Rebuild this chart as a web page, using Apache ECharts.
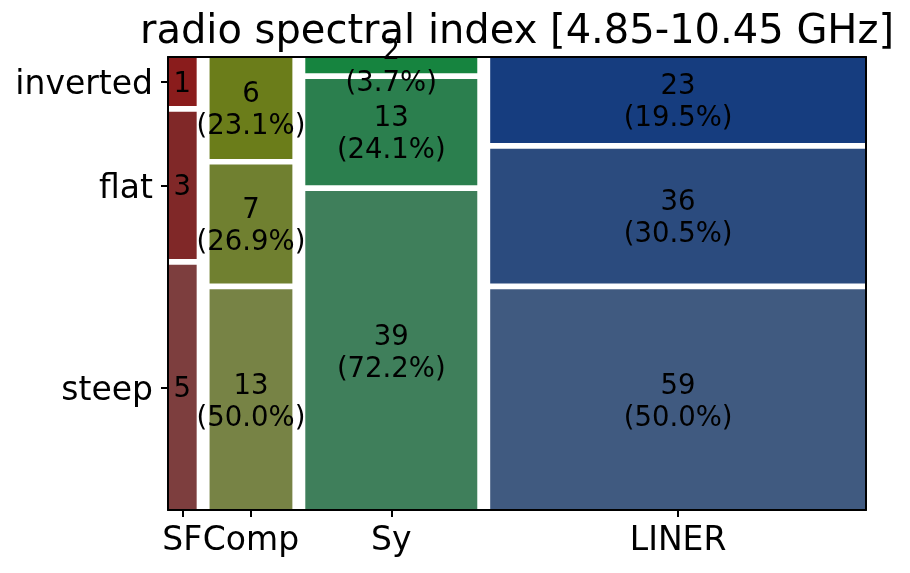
<!DOCTYPE html>
<html>
<head>
<meta charset="utf-8">
<script src="https://cdn.jsdelivr.net/npm/echarts@6/dist/echarts.min.js"></script>
<style>
  html, body { margin: 0; padding: 0; background: #fff; }
  #chart { width: 910px; height: 573px; }
</style>
</head>
<body>
<div id="chart"></div>
<script>
// mosaic: columns = AGN class, rows = radio spectral index class
const categories = ['SF', 'Comp', 'Sy', 'LINER'];
const classes = ['steep', 'flat', 'inverted']; // bottom to top
const steep = [5, 13, 39, 59];
const flat = [3, 7, 13, 36];
const inverted = [1, 6, 2, 23];
const showPct = [false, true, true, true];

const colors = [
  ['#7d3e3e', '#802828', '#8a1c1c'],
  ['#778345', '#708030', '#6b7d1a'],
  ['#3f7f5b', '#2b7f4e', '#16843f'],
  ['#405a80', '#2b4b7e', '#163d7f'],
];

const hGap = 0.0185;
const vGap = 0.0125;

const counts = [steep, flat, inverted];
const colTotals = categories.map((c, i) => steep[i] + flat[i] + inverted[i]);
const grand = colTotals.reduce((a, b) => a + b, 0);

// build tiles [x0, x1, y0, y1, colIdx, rowIdx, count]
const tiles = [];
const xCenters = [];
let yCenters = [];
let x = 0;
const wAvail = 1 - hGap * (categories.length - 1);
const hAvail = 1 - vGap * (classes.length - 1);
categories.forEach((cat, i) => {
  const w = colTotals[i] / grand * wAvail;
  xCenters.push(x + w / 2);
  let y = 0;
  const ys = [];
  classes.forEach((cl, j) => {
    const h = counts[j][i] / colTotals[i] * hAvail;
    tiles.push([x, x + w, y, y + h, i, j, counts[j][i]]);
    ys.push(y + h / 2);
    y += h + vGap;
  });
  if (i === 0) yCenters = ys;
  x += w + hGap;
});

const font = 'DejaVu Sans';
const nameAt = (values, names) => (v) => {
  let best = 0;
  values.forEach((c, k) => {
    if (Math.abs(c - v) < Math.abs(values[best] - v)) best = k;
  });
  return names[best];
};
const yName = nameAt(yCenters, classes);

const myChart = echarts.init(document.getElementById('chart'));
const option = {
  animation: false,
  backgroundColor: '#fff',
  graphic: [
    {
      type: 'text',
      x: 517,
      y: 33,
      style: {
        text: 'radio spectral index [4.85-10.45 GHz]',
        font: '40px "DejaVu Sans"',
        fill: '#000',
        textAlign: 'center',
        textVerticalAlign: 'middle',
      },
    },
  ],
  grid: { left: 168, right: 44, top: 57, bottom: 63 },
  xAxis: [
    {
      type: 'value',
      min: 0,
      max: 1,
      z: 10,
      splitLine: { show: false },
      axisLine: { show: true, lineStyle: { color: '#000', width: 2 } },
      axisTick: { show: true, length: 7, customValues: xCenters, lineStyle: { color: '#000', width: 2 } },
      axisLabel: {
        customValues: xCenters,
        formatter: nameAt(xCenters, categories),
        fontFamily: font,
        fontSize: 33,
        color: '#000',
        margin: 15,
      },
    },
    {
      type: 'value',
      position: 'top',
      min: 0,
      max: 1,
      z: 10,
      splitLine: { show: false },
      axisLine: { show: true, onZero: false, lineStyle: { color: '#000', width: 2 } },
      axisTick: { show: false },
      axisLabel: { show: false },
    },
  ],
  yAxis: [
    {
      type: 'value',
      min: 0,
      max: 1,
      z: 10,
      splitLine: { show: false },
      axisLine: { show: true, lineStyle: { color: '#000', width: 2 } },
      axisTick: { show: true, length: 7, customValues: yCenters, lineStyle: { color: '#000', width: 2 } },
      axisLabel: {
        customValues: yCenters,
        formatter: (v) => '{a|' + yName(v) + '}',
        color: '#000',
        margin: 15,
        rich: {
          a: { fontFamily: font, fontSize: 33, color: '#000', padding: [8, 0, 0, 0] },
        },
      },
    },
    {
      type: 'value',
      position: 'right',
      min: 0,
      max: 1,
      z: 10,
      splitLine: { show: false },
      axisLine: { show: true, onZero: false, lineStyle: { color: '#000', width: 2 } },
      axisTick: { show: false },
      axisLabel: { show: false },
    },
  ],
  series: [
    {
      type: 'custom',
      xAxisIndex: 0,
      yAxisIndex: 0,
      data: tiles,
      renderItem: (params, api) => {
        const x0 = api.value(0);
        const x1 = api.value(1);
        const y0 = api.value(2);
        const y1 = api.value(3);
        const ci = api.value(4);
        const rj = api.value(5);
        const n = api.value(6);
        const p0 = api.coord([x0, y1]);
        const p1 = api.coord([x1, y0]);
        const pct = (n / colTotals[ci] * 100).toFixed(1);
        const label = showPct[ci] ? n + '\n(' + pct + '%)' : String(n);
        return {
          type: 'group',
          children: [
            {
              type: 'rect',
              shape: { x: p0[0], y: p0[1], width: p1[0] - p0[0], height: p1[1] - p0[1] },
              style: { fill: colors[ci][rj] },
            },
            {
              type: 'text',
              x: (p0[0] + p1[0]) / 2,
              y: (p0[1] + p1[1]) / 2 + 3,
              z2: 5,
              style: {
                text: label,
                font: '27.5px "DejaVu Sans"',
                lineHeight: 32,
                fill: '#000',
                textAlign: 'center',
                textVerticalAlign: 'middle',
              },
            },
          ],
        };
      },
    },
  ],
};

myChart.setOption(option);
</script>
</body>
</html>
